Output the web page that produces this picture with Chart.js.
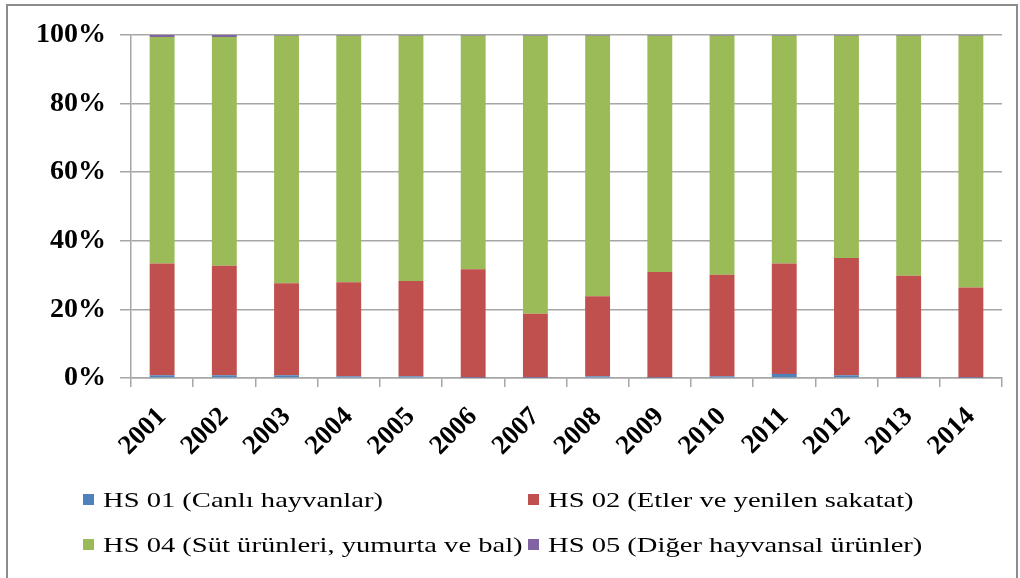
<!DOCTYPE html>
<html>
<head>
<meta charset="utf-8">
<script src="https://cdn.jsdelivr.net/npm/chart.js@4/dist/chart.umd.min.js"></script>
<style>
    body { margin: 0; background: #fff; }
    #wrap { position: relative; width: 1020px; height: 578px; overflow: hidden; }
    #frame { position: absolute; left: 6px; top: 4px; width: 1008px; height: 640px; border: 2px solid #8c8c8c; }
    #grafik { position: absolute; left: 0; top: 0; }
    .lg { position: absolute; font-family: 'Liberation Serif', 'Times New Roman', serif; font-size: 21px; line-height: 24px; color: #000; white-space: nowrap; transform: scaleX(1.36); transform-origin: left center; }
    .sq { position: absolute; width: 11px; height: 11px; }
</style>
</head>
<body>
<div id="wrap">
    <div id="frame"></div>
    <canvas id="grafik" width="1020" height="578"></canvas>
    <div id="legend"></div>
</div>
<script>
const years = ['2001', '2002', '2003', '2004', '2005', '2006', '2007', '2008', '2009', '2010', '2011', '2012', '2013', '2014'];
const seriesNames = [
    'HS 01 (Canlı hayvanlar)',
    'HS 02 (Etler ve yenilen sakatat)',
    'HS 04 (Süt ürünleri, yumurta ve bal)',
    'HS 05 (Diğer hayvansal ürünler)'
];
const seriesColors = ['#4F81BD', '#C0504D', '#9BBB59', '#8064A2'];
const hs01 = [0.8, 0.8, 0.8, 0.5, 0.5, 0.05, 0.05, 0.5, 0.05, 0.5, 1.2, 0.8, 0.05, 0.05];
const hs02 = [32.6, 31.9, 26.8, 27.4, 27.8, 31.65, 18.65, 23.3, 30.85, 29.6, 32.2, 34.2, 29.75, 26.35];
const hs04 = [66.0, 66.7, 72.2, 71.9, 71.5, 68.1, 81.1, 76.0, 68.9, 69.7, 66.4, 64.8, 70.0, 73.4];
const hs05 = [0.6, 0.6, 0.2, 0.2, 0.2, 0.2, 0.2, 0.2, 0.2, 0.2, 0.2, 0.2, 0.2, 0.2];
const yTicks = [0, 20, 40, 60, 80, 100];

const serif = "'Liberation Serif', 'Times New Roman', serif";
const gridGrey = '#a6a6a6';

const ctx = document.getElementById('grafik').getContext('2d');
const chartIhracat = new Chart(ctx, {
    type: 'bar',
    data: {
        labels: years,
        datasets: [hs01, hs02, hs04, hs05].map((vals, i) => ({
            label: seriesNames[i],
            data: vals,
            backgroundColor: seriesColors[i],
            borderWidth: 0,
            barPercentage: 0.4,
            categoryPercentage: 1.0
        }))
    },
    options: {
        responsive: false,
        animation: false,
        layout: {
            padding: { top: 35, right: 18, bottom: 90, left: 0 }
        },
        plugins: {
            legend: { display: false },
            tooltip: { enabled: false }
        },
        scales: {
            x: {
                stacked: true,
                offset: true,
                // labels get clipped to the scale box, keep it tall enough
                afterFit: (s) => { s.height = 110; },
                grid: {
                    offset: true,
                    drawOnChartArea: false,
                    color: gridGrey,
                    lineWidth: 1.5,
                    tickLength: 9
                },
                border: { color: gridGrey, width: 1.5 },
                ticks: {
                    minRotation: 45,
                    maxRotation: 45,
                    padding: 14,
                    color: '#000',
                    font: { family: serif, size: 27, weight: 'bold' }
                }
            },
            y: {
                stacked: true,
                min: 0,
                max: 100,
                afterFit: (s) => { s.width = 131; },
                afterBuildTicks: (s) => { s.ticks = yTicks.map(v => ({ value: v })); },
                grid: {
                    color: gridGrey,
                    lineWidth: 1.5,
                    tickLength: 11
                },
                border: { color: gridGrey, width: 1.5 },
                ticks: {
                    padding: 14,
                    color: '#000',
                    font: { family: serif, size: 28, weight: 'bold' },
                    callback: (v) => v + '%'
                }
            }
        }
    }
});

// legend in two aligned columns like the original (text is wide, so stretch it)
const legendCols = [83, 528];
const legendRows = [488, 533];
const legendBox = document.getElementById('legend');
seriesNames.forEach((name, i) => {
    const x = legendCols[i % 2];
    const y = legendRows[Math.floor(i / 2)];
    const sq = document.createElement('div');
    sq.className = 'sq';
    sq.style.left = x + 'px';
    sq.style.top = (y + 6) + 'px';
    sq.style.background = seriesColors[i];
    legendBox.appendChild(sq);
    const item = document.createElement('div');
    item.className = 'lg';
    item.style.left = (x + 20) + 'px';
    item.style.top = y + 'px';
    item.textContent = name;
    legendBox.appendChild(item);
});
</script>
</body>
</html>
